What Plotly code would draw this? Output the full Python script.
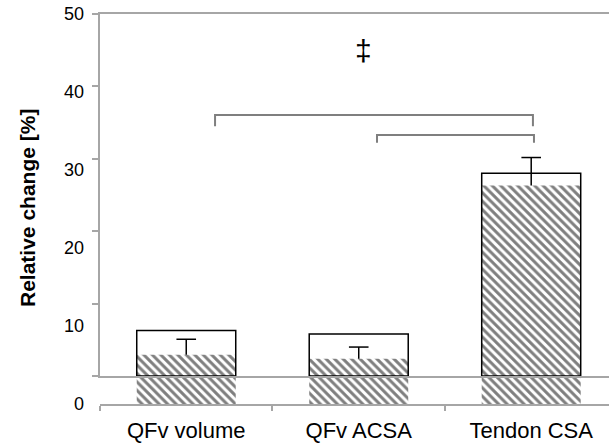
import plotly.graph_objects as go

# Measured quantities (relative change, %)
categories = ["QFv volume", "QFv ACSA", "Tendon CSA"]
mean_change = [6.3, 5.8, 28.0]
sem_change = [2.0, 1.5, 3.6]
y_tick_values = [0, 10, 20, 30, 40, 50]
y_tick_labels = ["0", "10", "20", "30", "40", "50"]

AXIS_GRAY = "#a6a6a6"
BRACKET_GRAY = "#7f7f7f"
FONT = "Liberation Sans, Arial, sans-serif"

fig = go.Figure()

# Hatched bars (lower panel scale)
fig.add_trace(go.Bar(
    x=categories, y=mean_change, xaxis="x", yaxis="y",
    width=0.574,
    marker=dict(color="white", line=dict(width=0),
                pattern=dict(shape="\\", fgcolor="black", bgcolor="white",
                             size=6, solidity=0.5)),
    hoverinfo="skip",
))

# Upward-only error bars: stem from bar top to mean + SEM, with a single cap
stem_x, stem_y = [], []
for cat, m, s in zip(categories, mean_change, sem_change):
    stem_x += [cat, cat, None]
    stem_y += [m, m + s, None]
fig.add_trace(go.Scatter(
    x=stem_x, y=stem_y, xaxis="x", yaxis="y", mode="lines",
    line=dict(color="black", width=1.5), hoverinfo="skip",
))
fig.add_trace(go.Scatter(
    x=categories, y=[m + s for m, s in zip(mean_change, sem_change)],
    xaxis="x", yaxis="y", mode="markers",
    marker=dict(symbol="line-ew", size=14, color="black",
                line=dict(color="black", width=1.5)),
    hoverinfo="skip",
))

# Outlined bars on the upper axis scale
fig.add_trace(go.Bar(
    x=categories, y=mean_change, xaxis="x2", yaxis="y2",
    width=0.574,
    marker=dict(color="rgba(0,0,0,0)", line=dict(color="black", width=1.5)),
    hoverinfo="skip",
))

x_range = [-0.5, 2.451]
y2_bottom = (404 - 376) / 390

fig.update_layout(
    width=609, height=443,
    margin=dict(l=100, r=0, t=14, b=39),
    paper_bgcolor="white", plot_bgcolor="rgba(0,0,0,0)",
    barmode="overlay", showlegend=False,
    font=dict(family=FONT, color="black"),
    xaxis=dict(
        domain=[0, 1], anchor="y", type="category", range=x_range,
        showline=True, linecolor=AXIS_GRAY, linewidth=1.5,
        ticks="outside", tickson="boundaries", ticklen=5,
        tickcolor=AXIS_GRAY, tickwidth=1.5,
        showgrid=False, zeroline=False,
        tickfont=dict(size=22, family=FONT, color="black"),
        ticklabelstandoff=6,
    ),
    yaxis=dict(
        domain=[0, 1], anchor="x", range=[0, 50],
        tickvals=y_tick_values, ticktext=y_tick_labels,
        ticks="", showline=False, showgrid=False, zeroline=False,
        tickfont=dict(size=18, family=FONT, color="black"),
        ticklabelstandoff=15,
    ),
    xaxis2=dict(
        domain=[0, 1], anchor="y2", type="category", range=x_range,
        showline=True, mirror=True, linecolor=AXIS_GRAY, linewidth=1.5,
        ticks="", showticklabels=False, showgrid=False, zeroline=False,
    ),
    yaxis2=dict(
        domain=[y2_bottom, 1], anchor="x2", range=[0, 50],
        tickvals=y_tick_values, ticks="outside", ticklen=6,
        tickcolor=AXIS_GRAY, tickwidth=1.5,
        showticklabels=False, showline=True, linecolor=AXIS_GRAY,
        linewidth=1.5, showgrid=False, zeroline=False,
    ),
)

# Significance brackets
def bracket(x0, x1, y_top, y_leg):
    return dict(
        type="path", xref="x2", yref="y2",
        path=f"M {x0} {y_leg} L {x0} {y_top} L {x1} {y_top} L {x1} {y_leg}",
        line=dict(color=BRACKET_GRAY, width=2),
    )

fig.add_shape(bracket(0.167, 2.01, 36.05, 34.5))
fig.add_shape(bracket(1.106, 2.016, 33.3, 32.2))

fig.add_annotation(
    x=1.025, y=44.9, xref="x2", yref="y2", text="‡", showarrow=False,
    font=dict(size=30, family=FONT, color="black"),
)

fig.add_annotation(
    x=(27 - 100) / 509, y=(404 - 208) / 390, xref="paper", yref="paper",
    text="<b>Relative change [%]</b>", textangle=-90, showarrow=False,
    xanchor="center", yanchor="middle",
    font=dict(size=21, family=FONT, color="black"),
)

fig.write_html("out.html")
